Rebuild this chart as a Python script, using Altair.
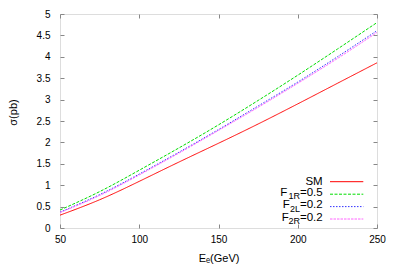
import altair as alt
import pandas as pd

# ---- data ----
energy = [50, 75, 100, 125, 150, 175, 200, 225, 250]
sigma_sm = [0.30, 0.66, 1.09, 1.54, 1.98, 2.43, 2.90, 3.38, 3.86]
sigma_f1r = [0.42, 0.85, 1.35, 1.87, 2.41, 2.98, 3.57, 4.18, 4.80]
sigma_f2l = [0.37, 0.78, 1.26, 1.77, 2.30, 2.85, 3.41, 4.00, 4.61]
sigma_f2r = [0.36, 0.76, 1.24, 1.75, 2.28, 2.82, 3.38, 3.96, 4.57]

series_keys = ["SM", "F1R", "F2L", "F2R"]
legend_main = ["SM", "F", "F", "F"]
legend_sub = ["", "1R", "2L", "2R"]
legend_tail = ["", "=0.5", "=0.2", "=0.2"]
x_ticks = [50, 100, 150, 200, 250]
y_ticks = [0, 0.5, 1, 1.5, 2, 2.5, 3, 3.5, 4, 4.5, 5]

# ---- styles ----
colors = ["#ff0000", "#00dd00", "#3333ff", "#ff66ff"]
dashes = [[1, 0], [3, 1.5], [1.5, 1.5], [2.5, 1]]
FONT = "Liberation Sans"
W, H = 317, 214
TICK = 4

rows = []
for key, vals in zip(series_keys, [sigma_sm, sigma_f1r, sigma_f2l, sigma_f2r]):
    for e, s in zip(energy, vals):
        rows.append({"series": key, "E": e, "sigma": s})
df = pd.DataFrame(rows)

xscale = alt.Scale(domain=[50, 250], nice=False, zero=False)
yscale = alt.Scale(domain=[0, 5], nice=False)

x_bottom = alt.Axis(values=x_ticks, orient="bottom", offset=-TICK, tickSize=TICK,
                    domain=False, grid=False, labelPadding=6, title="Eₑ(GeV)",
                    titleY=34, titleBaseline="middle", titleFontWeight="normal",
                    labelFlush=False)
y_left = alt.Axis(values=y_ticks, orient="left", offset=-TICK, tickSize=TICK,
                  domain=False, grid=False, labelPadding=10, format="~g",
                  title="σ(pb)", titleX=-51, titleY=98, titleBaseline="middle",
                  titleAlign="center", titleAngle=-90, titleFontWeight="normal",
                  labelFlush=False)
x_top = alt.Axis(values=x_ticks, orient="top", offset=-TICK, tickSize=TICK,
                 domain=False, grid=False, labels=False, title=None)
y_right = alt.Axis(values=y_ticks, orient="right", offset=-TICK, tickSize=TICK,
                   domain=False, grid=False, labels=False, title=None)

layers = []
for i, key in enumerate(series_keys):
    layers.append(
        alt.Chart(df).transform_filter(alt.datum.series == key)
        .mark_line(color=colors[i], strokeDash=dashes[i], strokeWidth=1,
                   interpolate="natural")
        .encode(x=alt.X("E:Q", scale=xscale, axis=x_bottom),
                y=alt.Y("sigma:Q", scale=yscale, axis=y_left))
    )
lines = alt.layer(*layers)

mirror = (
    alt.Chart(df).transform_filter(alt.datum.series == "SM")
    .mark_line(opacity=0)
    .encode(x=alt.X("E:Q", scale=xscale, axis=x_top),
            y=alt.Y("sigma:Q", scale=yscale, axis=y_right))
)

# ---- hand-drawn legend (layout in pixels) ----
row_y = [167.7, 180.2, 192.6, 205.0]
sample_x0, sample_x1 = 270, 303.3
text_right = 262.7
tail_w = 22.7
sub_w = {"1R": 12.7, "2L": 10.2, "2R": 11.2}
legend_layers = []
for i in range(4):
    one = pd.DataFrame({"main": [legend_main[i]], "sub": [legend_sub[i]],
                        "tail": [legend_tail[i]]})
    base = alt.Chart(one)
    legend_layers.append(
        base.mark_rule(color=colors[i], strokeDash=dashes[i], strokeWidth=1)
        .encode(x=alt.value(sample_x0), x2=alt.value(sample_x1), y=alt.value(row_y[i]))
    )
    if legend_sub[i] == "":
        legend_layers.append(
            base.mark_text(align="right", baseline="middle", font=FONT, fontSize=11.5,
                           color="black")
            .encode(text="main:N", x=alt.value(text_right), y=alt.value(row_y[i]))
        )
    else:
        x_sub = text_right - tail_w
        x_main = x_sub - sub_w[legend_sub[i]]
        legend_layers.append(
            base.mark_text(align="right", baseline="middle", font=FONT, fontSize=11.5,
                           color="black")
            .encode(text="tail:N", x=alt.value(text_right), y=alt.value(row_y[i] - 1.5))
        )
        legend_layers.append(
            base.mark_text(align="right", baseline="middle", font=FONT, fontSize=9,
                           color="black")
            .encode(text="sub:N", x=alt.value(x_sub), y=alt.value(row_y[i] + 2))
        )
        legend_layers.append(
            base.mark_text(align="right", baseline="middle", font=FONT, fontSize=11.5,
                           color="black")
            .encode(text="main:N", x=alt.value(x_main), y=alt.value(row_y[i] - 1.5))
        )

chart = (
    alt.layer(lines, mirror, *legend_layers)
    .resolve_axis(x="independent", y="independent")
    .properties(width=W, height=H, autosize=alt.AutoSizeParams(type="none"),
                padding={"left": 52, "top": 6, "right": 15, "bottom": 50})
    .configure_view(stroke="black", strokeWidth=1)
    .configure_axis(labelFont=FONT, titleFont=FONT, labelFontSize=11, titleFontSize=11.5,
                    labelColor="black", titleColor="black", tickColor="black",
                    titleFontWeight="normal")
    .configure(background="white")
)

chart.save("out.html", embed_options={"renderer": "svg", "actions": False})
